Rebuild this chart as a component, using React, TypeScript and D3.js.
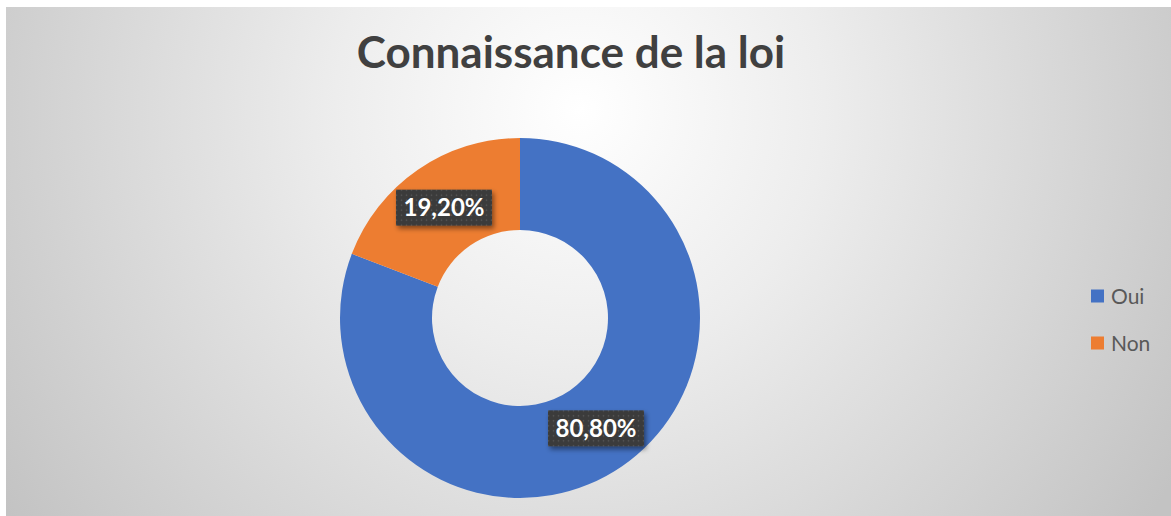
import React from 'react';
import * as d3 from 'd3';

// chart data
const categories = ['Oui', 'Non'];
const values = [80.8, 19.2];
const valueLabels = ['80,80%', '19,20%'];
const colors = ['#4472C4', '#ED7D31'];
const title = 'Connaissance de la loi';

const width = 1171;
const height = 516;

const App = () => {
    const cx = 520;
    const cy = 318;
    const outerR = 180;
    const innerR = 88;

    const pie = d3.pie<number>().sort(null).startAngle(0).endAngle(2 * Math.PI);
    const arcs = pie(values);
    const arc = d3.arc<d3.PieArcDatum<number>>().innerRadius(innerR).outerRadius(outerR);
    // labels sit in the middle of the ring
    const labelArc = d3.arc<d3.PieArcDatum<number>>()
        .innerRadius((innerR + outerR) / 2)
        .outerRadius((innerR + outerR) / 2);

    const colorScale = d3.scaleOrdinal<string, string>().domain(categories).range(colors);
    const legendY = d3.scalePoint<string>().domain(categories).range([296, 343]);

    const boxW = 96;
    const boxH = 36;

    return (
        <svg width={width} height={height} style={{ position: 'absolute', left: 0, top: 0 }}>
            <defs>
                <radialGradient id="bg" gradientUnits="userSpaceOnUse" cx={580} cy={110} r={700}>
                    <stop offset="0" stopColor="#ffffff" />
                    <stop offset="0.35" stopColor="#ededed" />
                    <stop offset="1" stopColor="#c3c3c3" />
                </radialGradient>
                <pattern id="dots" width="5" height="5" patternUnits="userSpaceOnUse">
                    <rect width="5" height="5" fill="#3a3a3a" />
                    <circle cx="2.5" cy="2.5" r="0.8" fill="#5c5c5c" />
                </pattern>
                <filter id="shadow" x="-20%" y="-30%" width="150%" height="180%">
                    <feDropShadow dx="2" dy="3" stdDeviation="2.5" floodColor="#000" floodOpacity="0.45" />
                </filter>
            </defs>
            <rect x={0} y={0} width={width} height={height} fill="#ffffff" />
            <rect x={6} y={7} width={width - 6} height={height - 7} fill="url(#bg)" />

            <text x={571} y={68} textAnchor="middle" fontFamily="Lato, 'Open Sans', sans-serif"
                fontWeight="bold" fontSize={44} fill="#404040">{title}</text>

            <g transform={`translate(${cx},${cy})`}>
                {arcs.map((a, i) => (
                    <path key={categories[i]} d={arc(a) || ''} fill={colorScale(categories[i])} />
                ))}
                {arcs.map((a, i) => {
                    const [lx, ly] = labelArc.centroid(a);
                    return (
                        <g key={'lbl' + i} transform={`translate(${lx},${ly})`}>
                            <rect x={-boxW / 2} y={-boxH / 2} width={boxW} height={boxH}
                                fill="url(#dots)" filter="url(#shadow)" />
                            <text x={0} y={8.5} textAnchor="middle" fill="#ffffff"
                                fontFamily="Lato, 'Open Sans', sans-serif" fontWeight="bold"
                                fontSize={24}>{valueLabels[i]}</text>
                        </g>
                    );
                })}
            </g>

            <g>
                {categories.map(c => (
                    <g key={c} transform={`translate(1091,${legendY(c)})`}>
                        <rect x={0} y={-6.5} width={13} height={13} fill={colorScale(c)} />
                        <text x={20} y={8} fontFamily="Lato, 'Open Sans', sans-serif"
                            fontSize={21} fill="#595959">{c}</text>
                    </g>
                ))}
            </g>
        </svg>
    );
};

export default App;
